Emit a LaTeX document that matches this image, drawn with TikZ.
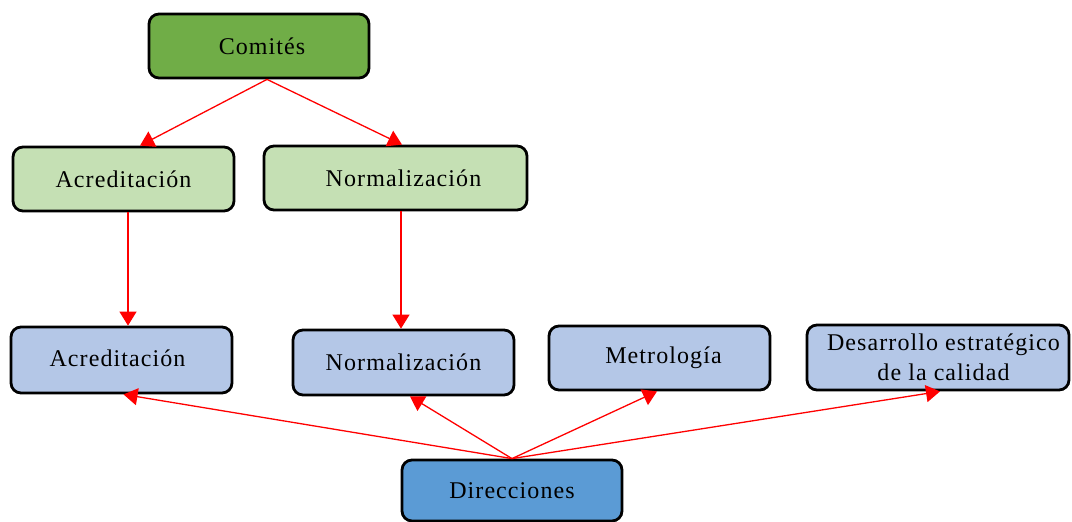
\documentclass[tikz,border=0pt]{standalone}
\usepackage{fontspec}
\setmainfont[LetterSpace=4.5]{Liberation Serif}
\usetikzlibrary{arrows.meta}
\definecolor{comgreen}{HTML}{70AD47}
\definecolor{lightgreen}{HTML}{C5E0B4}
\definecolor{lightblue}{HTML}{B4C7E7}
\definecolor{midblue}{HTML}{5B9BD5}
\begin{document}
\begin{tikzpicture}[x=1pt,y=-1pt,
  box/.style={draw=black,line width=2.8pt,rounded corners=10pt,
    inner sep=0pt,align=center,
    font=\fontsize{24}{30}\selectfont},
  link/.style={draw=red,line width=1.3pt,
    -{Triangle[length=14pt,width=17pt]}}]
\useasboundingbox (0,0) rectangle (1072,522);
% upper level
\node[box,fill=comgreen,minimum width=220pt,minimum height=64pt] (com) at (259,46) {\hspace*{6pt}Comités};
\node[box,fill=lightgreen,minimum width=221pt,minimum height=64pt] (acg) at (123.5,179) {Acreditación};
\node[box,fill=lightgreen,minimum width=263pt,minimum height=64pt] (normg) at (395.5,178) {\hspace*{16pt}Normalización};
% directions
\node[box,fill=lightblue,minimum width=221pt,minimum height=66pt] (acb) at (121.5,360) {\raisebox{3pt}{Acreditación}\hspace*{8pt}};
\node[box,fill=lightblue,minimum width=221pt,minimum height=65pt] (normb) at (403.5,362.5) {Normalización};
\node[box,fill=lightblue,minimum width=221pt,minimum height=64pt] (metro) at (659.5,358) {\hspace*{8pt}Metrología};
\node[box,fill=lightblue,minimum width=262pt,minimum height=65pt] (des) at (938,357.5) {\hspace*{11pt}Desarrollo estratégico\\\hspace*{11pt}de la calidad};
\node[box,fill=midblue,minimum width=220pt,minimum height=61pt] (dir) at (512,490.5) {Direcciones};
% connectors
\draw[link] ([xshift=8pt]com.south) -- ([xshift=16.5pt]acg.north);
\draw[link] ([xshift=8pt]com.south) -- ([xshift=6.5pt]normg.north);
\draw[link] ([xshift=4.5pt]acg.south) -- ([xshift=6.5pt]acb.north);
\draw[link] ([xshift=5.5pt]normg.south) -- ([xshift=-2.5pt]normb.north);
\draw[link] (dir.north) -- ([xshift=2pt]acb.south);
\draw[link] (dir.north) -- ([xshift=6.5pt]normb.south);
\draw[link] (dir.north) -- ([xshift=-2.5pt]metro.south);
\draw[link] (dir.north) -- ([xshift=2pt]des.south);
\end{tikzpicture}
\end{document}
